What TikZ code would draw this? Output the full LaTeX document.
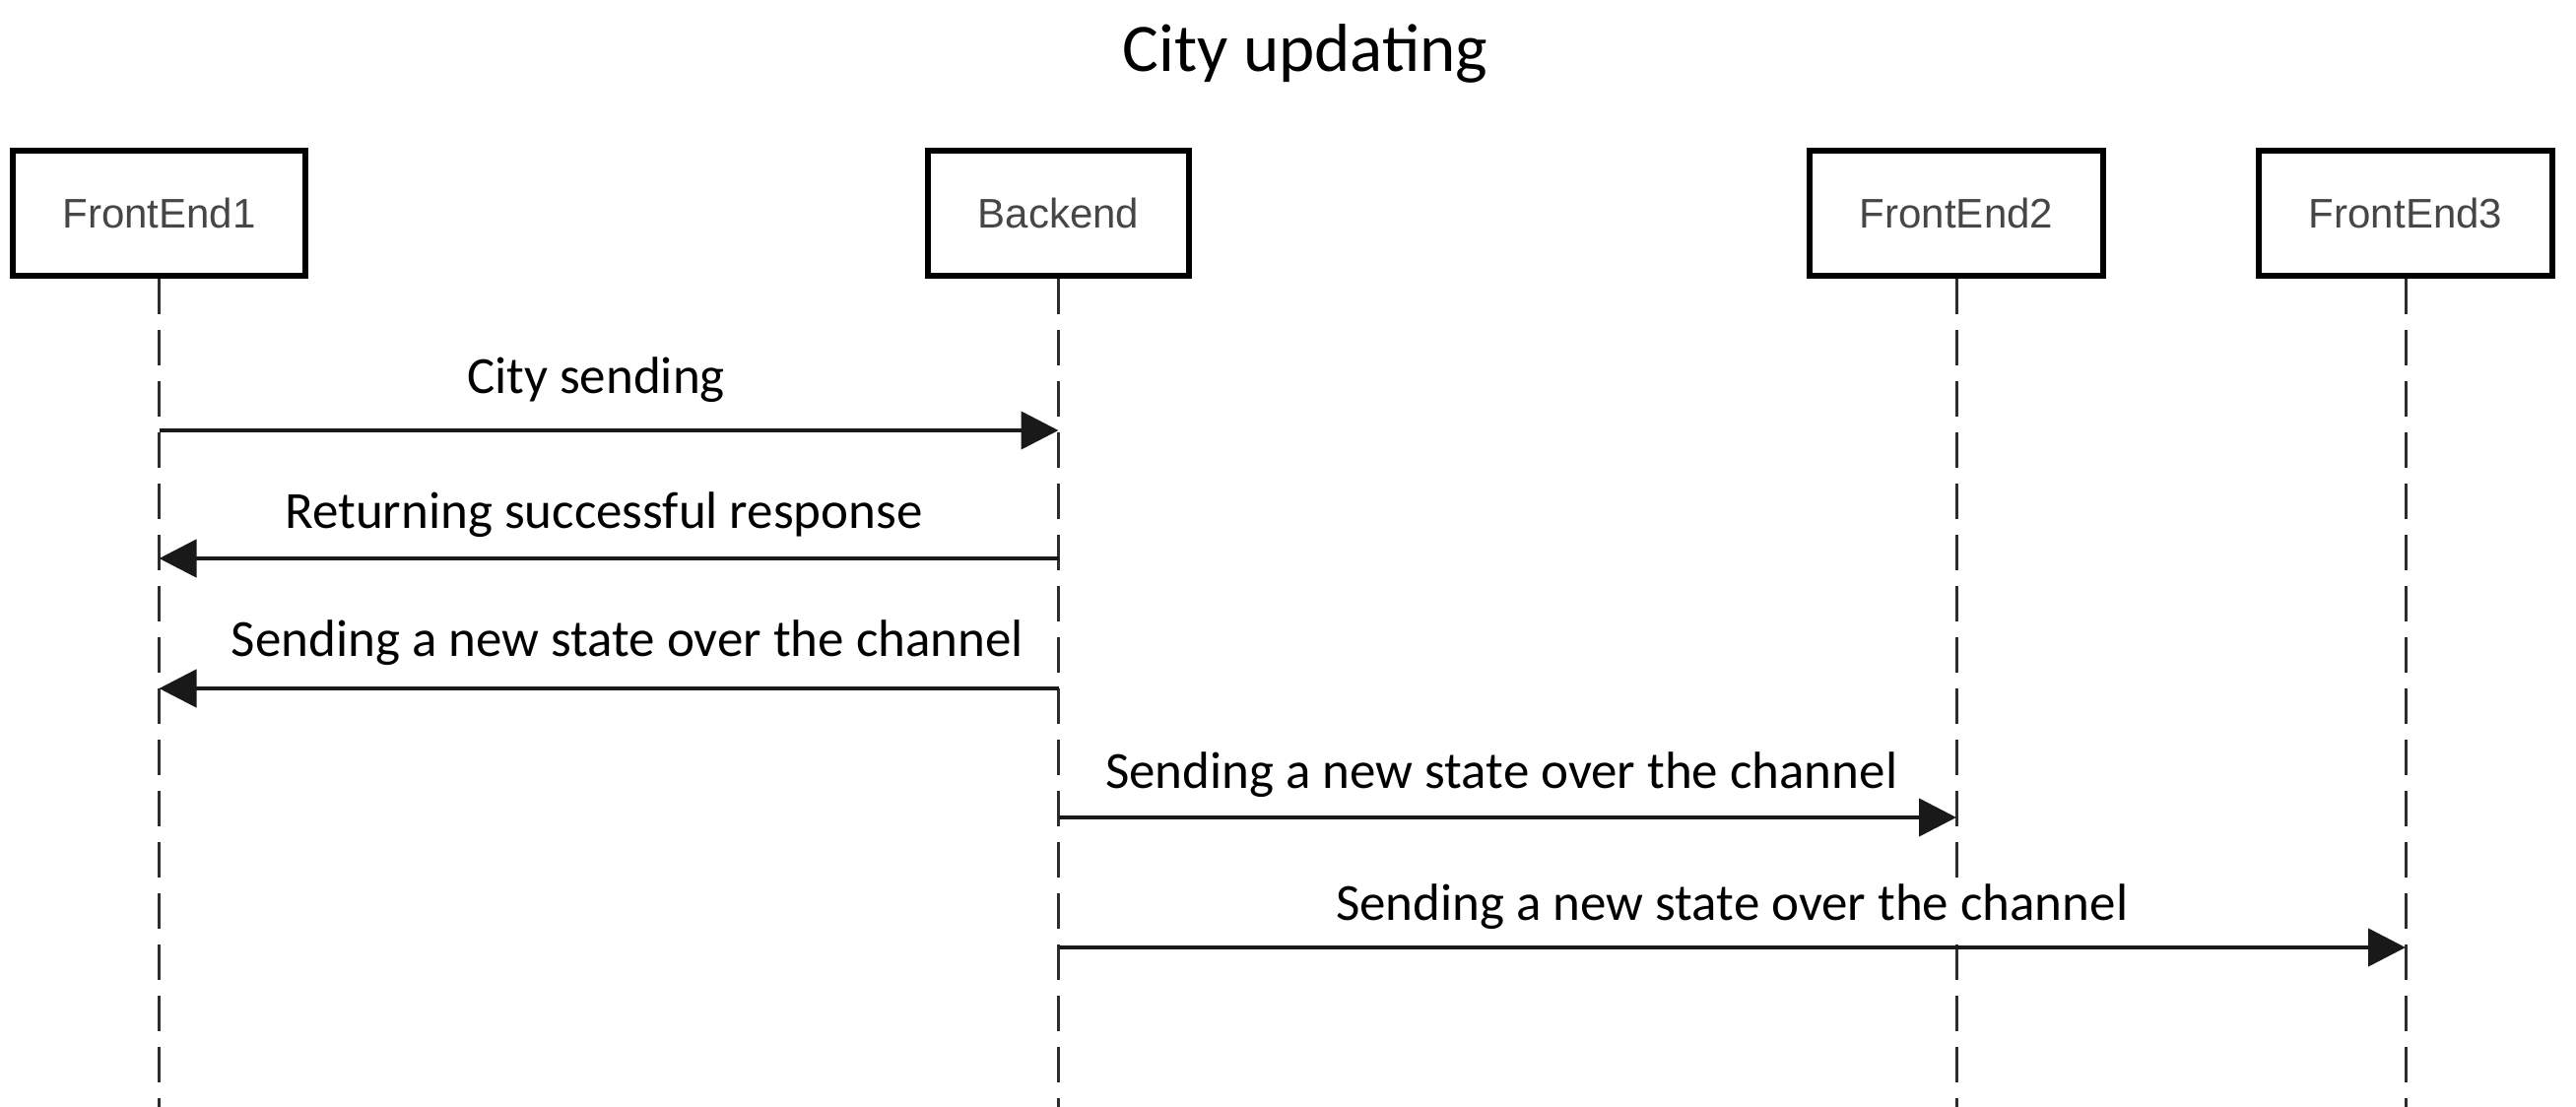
\documentclass[tikz,border=0pt]{standalone}
\usepackage{fontspec}
\setmainfont{Carlito}
\newfontfamily\boxfont{Liberation Sans}
\usetikzlibrary{arrows.meta}
\definecolor{boxtext}{RGB}{70,70,70}
\definecolor{lifecol}{RGB}{45,45,45}
\definecolor{msgcol}{RGB}{25,25,25}
\tikzset{
  actor/.style={draw=black, line width=6pt, fill=white, minimum height=127pt,
    font=\boxfont\fontsize{42}{48}\selectfont, text=boxtext, inner sep=0pt},
  lifeline/.style={draw=lifecol, line width=3pt, dash pattern=on 36pt off 16pt},
  msg/.style={draw=msgcol, line width=4.5pt, -{Triangle[length=38pt,width=38pt]}},
  msglabel/.style={font=\fontsize{53}{60}\selectfont, anchor=base, text=black,
    fill=white, inner sep=4pt},
}
\begin{document}
\begin{tikzpicture}[x=1pt, y=-1pt]
\useasboundingbox (0,0) rectangle (2615,1124);
\node[font=\fontsize{69}{80}\selectfont, anchor=base] (title) at (1325,72) {City updating};
\node[actor, minimum width=297pt] (fe1) at (161.5,216.5) {FrontEnd1};
\node[actor, minimum width=265pt] (be) at (1074.5,216.5) {Backend};
\node[actor, minimum width=298pt] (fe2) at (1986,216.5) {FrontEnd2};
\node[actor, minimum width=298pt] (fe3) at (2442,216.5) {FrontEnd3};
\coordinate (bottom) at (0,1124);
\foreach \n in {fe1,be,fe2,fe3} {
  \draw[lifeline] (\n.south) -- (\n.south |- bottom);
}
\coordinate (r1) at (0,437);
\coordinate (r2) at (0,567);
\coordinate (r3) at (0,699);
\coordinate (r4) at (0,830);
\coordinate (r5) at (0,962);
\draw[msg] (fe1 |- r1) -- node[msglabel, xshift=-13pt, yshift=38pt] {City sending} (be |- r1);
\draw[msg] (be |- r2) -- node[msglabel, xshift=-5pt, yshift=31pt] {Returning successful response} (fe1 |- r2);
\draw[msg] (be |- r3) -- node[msglabel, xshift=19pt, yshift=33pt] {Sending a new state over the channel} (fe1 |- r3);
\draw[msg] (be |- r4) -- node[msglabel, xshift=-6pt, yshift=30pt] {Sending a new state over the channel} (fe2 |- r4);
\draw[msg] (be |- r5) -- node[msglabel, yshift=28pt] {Sending a new state over the channel} (fe3 |- r5);
\end{tikzpicture}
\end{document}
